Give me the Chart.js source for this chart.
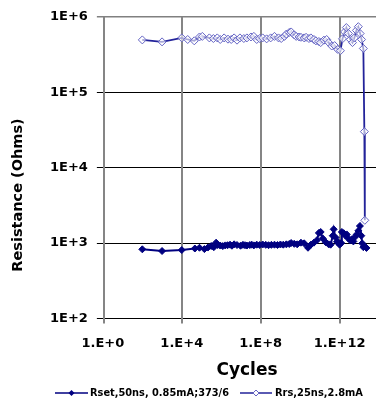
<!DOCTYPE html>
<html>
<head>
<meta charset="utf-8">
<script src="https://cdn.jsdelivr.net/npm/chart.js@4.4.1/dist/chart.umd.min.js"></script>
<style>
html,body{margin:0;padding:0;background:#fff;overflow:hidden;}
canvas{display:block;}
</style>
</head>
<body>
<canvas id="c" width="381" height="400"></canvas>
<script>
const seriesNames = ['Rset,50ns, 0.85mA;373/6', 'Rrs,25ns,2.8mA'];
const xTitle = 'Cycles';
const yTitle = 'Resistance (Ohms)';
const xTickValues = [1, 1e4, 1e8, 1e12];
const xTickLabels = ['1.E+0', '1.E+4', '1.E+8', '1.E+12'];
const yTickValues = [1e2, 1e3, 1e4, 1e5, 1e6];
const yTickLabels = ['1E+2', '1E+3', '1E+4', '1E+5', '1E+6'];

const rsetCycles = [1e2,1e3,1e4,4.6e4,7.9e4,1.4e5,2.1e5,3.1e5,4.2e5,5.5e5,6.6e5,8.9e5,1.2e6,1.6e6,2.1e6,2.8e6,3.5e6,4.5e6,6.3e6,9.5e6,1.26e7,1.6e7,2e7,2.8e7,3.5e7,4.5e7,6.3e7,8.9e7,1.26e8,1.8e8,2.5e8,3.5e8,5e8,7.1e8,1e9,1.4e9,2e9,2.8e9,3.5e9,5e9,7.1e9,1.1e10,1.6e10,2.5e10,3.5e10,5e10,7.1e10,8.9e10,1.1e11,1.4e11,2e11,2.8e11,3.5e11,4.5e11,5e11,6.3e11,7.4e11,8.9e11,1e12,1.2e12,1.3e12,1.6e12,2e12,2.3e12,2.8e12,3.5e12,4.2e12,5e12,6e12,7.4e12,8.9e12,1.07e13,1.26e13,1.4e13,1.6e13,1.9e13,2.3e13];
const rsetOhms = [825,783,807,845,865,830,870,912,880,1010,940,925,910,930,935,950,920,960,940,920,945,935,925,940,950,930,950,940,955,945,935,945,950,940,955,950,960,970,1000,975,960,1010,990,865,950,1010,1090,1360,1400,1150,1020,960,950,1250,1520,1180,1040,1010,950,1000,1400,1350,1250,1300,1150,1080,1120,1050,1200,1300,1450,1680,1250,990,880,900,860];

const rrsCycles = [1e2,1e3,1e4,2e4,4.3e4,7.9e4,1.1e5,2.5e5,4e5,6.3e5,8.9e5,1.4e6,2.2e6,3.2e6,4.5e6,6.3e6,8.9e6,1.4e7,2e7,3.2e7,4.5e7,6.3e7,8.9e7,1.26e8,2e8,3.2e8,5e8,8e8,1.1e9,1.6e9,2e9,2.8e9,3.5e9,5e9,6.3e9,8.9e9,1.1e10,1.6e10,2e10,2.8e10,3.5e10,5e10,6.3e10,8.9e10,1.1e11,1.6e11,2.2e11,2.8e11,4e11,5.6e11,7.9e11,1.1e12,1.4e12,1.8e12,2.2e12,2.8e12,3.5e12,4.5e12,5.6e12,7.1e12,8.9e12,1.1e13,1.3e13,1.6e13,1.8e13,1.9e13];
const rrsOhms = [494000,465000,525000,500000,480000,540000,550000,525000,515000,525000,500000,525000,505000,500000,525000,490000,525000,515000,525000,540000,550000,500000,515000,525000,510000,525000,550000,525000,515000,550000,590000,620000,630000,575000,550000,540000,535000,525000,535000,515000,525000,500000,480000,470000,455000,490000,500000,455000,410000,415000,370000,355000,510000,630000,720000,600000,500000,455000,525000,660000,740000,600000,500000,380000,30000,2000];

const xMin = 1, xMax = 7e13, yMin = 1e2, yMax = 1e6;
const FONT = '"DejaVu Sans", Arial, sans-serif';

const rsetColor = '#000080';
const rrsLine = '#23239a';
const rrsMarker = '#6464c4';

const toPts = (xs, ys) => xs.map((x, i) => ({x: x, y: ys[i]}));

const vgrid = {
  id: 'vgrid',
  beforeDatasetsDraw(chart) {
    const ctx = chart.ctx;
    const ca = chart.chartArea;
    const xs = chart.scales.x;
    ctx.save();
    ctx.strokeStyle = '#858585';
    ctx.lineWidth = 2;
    xTickValues.forEach(v => {
      const px = Math.round(xs.getPixelForValue(v)) + (v === xMin ? 1 : 0);
      ctx.beginPath();
      ctx.moveTo(px, ca.top);
      ctx.lineTo(px, ca.bottom + 5);
      ctx.stroke();
    });
    ctx.restore();
  }
};

const extras = {
  id: 'extras',
  afterDraw(chart) {
    const ctx = chart.ctx;
    ctx.save();
    ctx.fillStyle = '#000';
    ctx.font = 'bold 14.5px ' + FONT;
    ctx.textAlign = 'center';
    ctx.textBaseline = 'middle';
    ctx.translate(18, 195);
    ctx.rotate(-Math.PI / 2);
    ctx.fillText(yTitle, 0, 0);
    ctx.restore();
    ctx.save();
    ctx.fillStyle = '#000';
    ctx.font = 'bold 17px ' + FONT;
    ctx.textAlign = 'center';
    ctx.textBaseline = 'middle';
    ctx.fillText(xTitle, 247, 371);
    const ly = 393;
    const items = [
      {x0: 55, x1: 88, tx: 90, tw: 139, color: rsetColor, mk: rsetColor, fill: true, name: seriesNames[0]},
      {x0: 240, x1: 272, tx: 275, tw: 88, color: rrsLine, mk: rrsMarker, fill: false, name: seriesNames[1]}
    ];
    items.forEach(it => {
      ctx.strokeStyle = it.color;
      ctx.lineWidth = 1.5;
      ctx.beginPath();
      ctx.moveTo(it.x0, ly);
      ctx.lineTo(it.x1, ly);
      ctx.stroke();
      const cx = (it.x0 + it.x1) / 2, r = 3;
      ctx.beginPath();
      ctx.moveTo(cx, ly - r); ctx.lineTo(cx + r, ly); ctx.lineTo(cx, ly + r); ctx.lineTo(cx - r, ly); ctx.closePath();
      if (it.fill) { ctx.fillStyle = it.mk; ctx.fill(); }
      else { ctx.fillStyle = '#fff'; ctx.fill(); ctx.strokeStyle = it.mk; ctx.lineWidth = 1; ctx.stroke(); }
      ctx.fillStyle = '#000';
      ctx.font = 'bold 10px ' + FONT;
      ctx.textAlign = 'left';
      ctx.textBaseline = 'middle';
      const w = ctx.measureText(it.name).width;
      ctx.save();
      ctx.translate(it.tx, ly);
      ctx.scale(it.tw / w, 1);
      ctx.fillText(it.name, 0, 0);
      ctx.restore();
    });
    ctx.restore();
  }
};

new Chart(document.getElementById('c'), {
  type: 'line',
  data: {
    datasets: [
      {
        label: seriesNames[0],
        data: toPts(rsetCycles, rsetOhms),
        borderColor: rsetColor,
        backgroundColor: rsetColor,
        borderWidth: 2,
        pointStyle: 'rectRot',
        pointRadius: 3.5,
        pointBorderWidth: 1,
        pointBackgroundColor: rsetColor,
        pointBorderColor: rsetColor,
        tension: 0
      },
      {
        label: seriesNames[1],
        data: toPts(rrsCycles, rrsOhms),
        borderColor: rrsLine,
        backgroundColor: '#fff',
        borderWidth: 1.8,
        pointStyle: 'rectRot',
        pointRadius: 4,
        pointBorderWidth: 1,
        pointBackgroundColor: 'rgba(255,255,255,0.6)',
        pointBorderColor: rrsMarker,
        tension: 0
      }
    ]
  },
  options: {
    responsive: false,
    animation: false,
    devicePixelRatio: 1,
    layout: {padding: {left: 41, right: 0, top: 16, bottom: 37}},
    plugins: {legend: {display: false}, tooltip: {enabled: false}},
    scales: {
      x: {
        type: 'logarithmic',
        min: xMin, max: xMax,
        afterBuildTicks: s => { s.ticks = xTickValues.map(v => ({value: v})); },
        ticks: {
          callback: (v) => { const i = xTickValues.indexOf(v); return i >= 0 ? xTickLabels[i] : ''; },
          color: '#000',
          font: {family: FONT, size: 13, weight: 'bold'},
          padding: 12,
          maxRotation: 0,
          autoSkip: false
        },
        grid: {display: false, tickLength: 5},
        border: {display: false}
      },
      y: {
        type: 'logarithmic',
        min: yMin, max: yMax,
        afterBuildTicks: s => { s.ticks = yTickValues.map(v => ({value: v})); },
        ticks: {
          callback: (v) => { const i = yTickValues.indexOf(v); return i >= 0 ? yTickLabels[i] : ''; },
          color: '#000',
          font: {family: FONT, size: 13, weight: 'bold'},
          padding: 9,
          autoSkip: false
        },
        grid: {
          color: c => (c.tick && c.tick.value === 1e6) ? '#808080' : '#000',
          lineWidth: c => (c.tick && c.tick.value === 1e6) ? 1.5 : 1,
          tickLength: 6
        },
        border: {display: false}
      }
    }
  },
  plugins: [vgrid, extras]
});
</script>
</body>
</html>
